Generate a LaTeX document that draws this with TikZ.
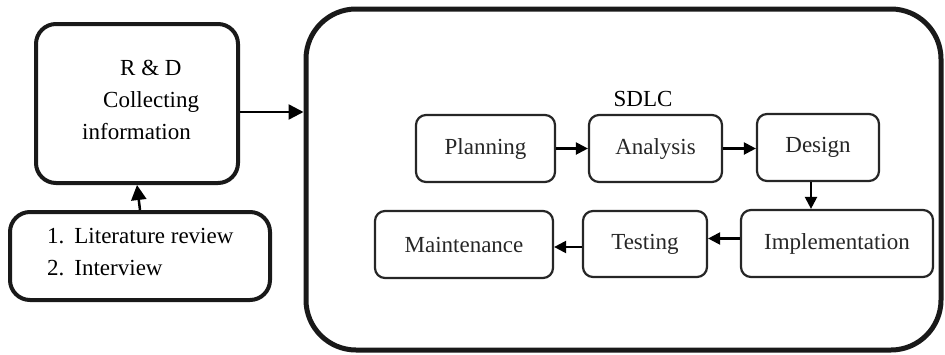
\documentclass[tikz,border=0pt]{standalone}
\usepackage{fontspec}
\setmainfont{Liberation Serif}
\usetikzlibrary{arrows.meta}
\tikzset{
  bigbox/.style={draw=black!90, line width=4pt, rounded corners=20pt, inner sep=0pt},
  outerbox/.style={draw=black!90, line width=5pt, rounded corners=50pt, inner sep=0pt},
  stepbox/.style={draw=black!85, line width=2.2pt, rounded corners=10pt, inner sep=0pt,
    font=\fontsize{23}{32}\selectfont, text=black!85},
  bigarr/.style={line width=2.5pt, -{Triangle[length=15pt,width=15pt]}},
  smallarr/.style={line width=2.2pt, -{Triangle[length=12pt,width=12pt]}},
}
\begin{document}
\begin{tikzpicture}[x=1pt,y=-1pt]
\useasboundingbox (0,0) rectangle (945,354);
% left boxes
\node[bigbox, minimum width=202pt, minimum height=159pt] (rd) at (137,103.5) {};
\node[anchor=north west, align=left, inner sep=0pt, font=\fontsize{23}{32}\selectfont] (rdtext) at (82,60)
  {\hspace*{38pt}R \& D\\\hspace*{21pt}Collecting\\information};
\node[bigbox, minimum width=260pt, minimum height=88pt] (src) at (140,256) {};
\node[anchor=north west, align=left, inner sep=0pt, font=\fontsize{23}{32}\selectfont] (srctext) at (47,228)
  {1.\hspace*{10pt}Literature review\\2.\hspace*{10pt}Interview};
% big box
\node[outerbox, minimum width=635pt, minimum height=341pt] (big) at (623.5,179.5) {};
\node[font=\fontsize{23}{28}\selectfont, inner sep=0pt] (sdlc) at (643,99) {SDLC};
% steps
\node[stepbox, minimum width=139pt, minimum height=67pt] (plan) at (485.5,148.5) {Planning};
\node[stepbox, minimum width=133pt, minimum height=67pt] (ana) at (655.5,148.5) {Analysis};
\node[stepbox, minimum width=122pt, minimum height=67pt] (des) at (818,147.5) {Design};
\node[stepbox, minimum width=192pt, minimum height=67pt] (imp) at (837,243.5) {Implementation};
\node[stepbox, minimum width=124pt, minimum height=66pt] (test) at (645,244) {Testing};
\node[stepbox, minimum width=178pt, minimum height=67pt] (main) at (464,244.5) {Maintenance};
% arrows
\draw[bigarr] (src.north) -- (rd.south);
\draw[bigarr] ([yshift=-8.5pt]rd.east) -- ([yshift=-8.5pt]rd.east -| big.west);
\draw[smallarr] (plan.east) -- (ana.west);
\draw[smallarr] (ana.east) -- (ana.east -| des.west);
\draw[smallarr] ([xshift=-7pt]des.south) -- ([xshift=-7pt]des.south |- imp.north);
\draw[smallarr] ([yshift=5pt]imp.west) -- ([yshift=5pt]imp.west -| test.east);
\draw[smallarr] ([yshift=-3pt]test.west) -- ([yshift=-3pt]test.west -| main.east);
\end{tikzpicture}
\end{document}
